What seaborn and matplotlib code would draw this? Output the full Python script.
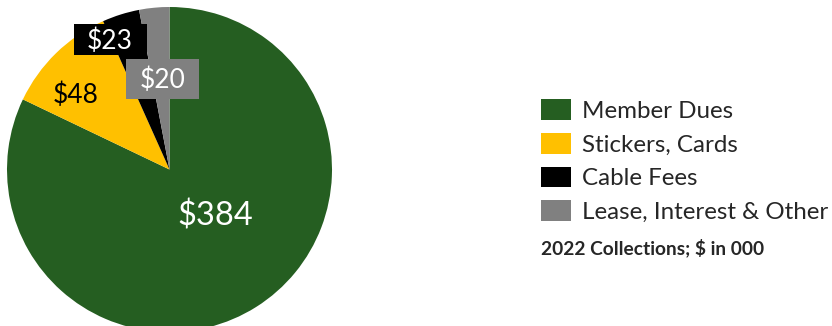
import matplotlib
matplotlib.use("Agg")
import matplotlib.pyplot as plt
import seaborn as sns
from matplotlib.patches import Patch, Rectangle

categories = ["Member Dues", "Stickers, Cards", "Cable Fees", "Lease, Interest & Other"]
# dollar amounts printed on the chart ($ in 000)
amounts = [384, 48, 23, 20]
value_labels = ["$384", "$48", "$23", "$20"]
# slice sizes as drawn in the picture (percent of the circle)
slice_share_pct = [82.1, 11.2, 3.7, 3.0]
colors = ["#255E21", "#FFC000", "#000000", "#808080"]
caption = "2022 Collections; $ in 000"

sns.set_style("white")
plt.rcParams["font.family"] = ["Lato", "DejaVu Sans"]

fig = plt.figure(figsize=(8.32, 3.26), dpi=100)
W, H = 832, 326
cx, cy, r = 169.5, 169.5, 162.5
ax = fig.add_axes([(cx - r) / W, (H - cy - r) / H, 2 * r / W, 2 * r / H])
wedges, _ = ax.pie(slice_share_pct, colors=colors, startangle=90, counterclock=False,
                   radius=1, wedgeprops=dict(linewidth=0))
ax.set_xlim(-1, 1)
ax.set_ylim(-1, 1)
ax.set_aspect("equal")
ax.axis("off")

# data-label placement (axis units) and styles
label_pos = [(0.28, -0.285), (-0.58, 0.46), (-0.365, 0.79), (-0.045, 0.55)]
label_size = [23.5, 19, 19, 19]
label_color = ["white", "black", "white", "white"]
# background boxes behind labels: (center, width, height) in axis units
label_box = [None, None, ((-0.361, 0.80), 0.448, 0.196), ((-0.042, 0.557), 0.448, 0.252)]
for (x, y), t, s, c, b, fc in zip(label_pos, value_labels, label_size,
                                   label_color, label_box, colors):
    if b:
        (bx, by), bw, bh = b
        ax.add_patch(Rectangle((bx - bw / 2, by - bh / 2), bw, bh, fc=fc,
                               ec="none", zorder=3, clip_on=False))
    ax.text(x, y, t, fontsize=s, color=c, ha="center", va="center", zorder=4)

handles = [Patch(facecolor=c, edgecolor="none") for c in colors]
fig.legend(handles, categories, loc="center left",
           bbox_to_anchor=(541 / W, 1 - 161 / H), frameon=False,
           fontsize=17.4, handlelength=1.24, handleheight=0.95,
           handletextpad=0.45, labelspacing=0.46, borderpad=0, borderaxespad=0)
fig.text(541 / W, 1 - 248 / H, caption, fontsize=13.8, fontweight="bold",
         ha="left", va="center")

fig.savefig("out.png", dpi=100)
